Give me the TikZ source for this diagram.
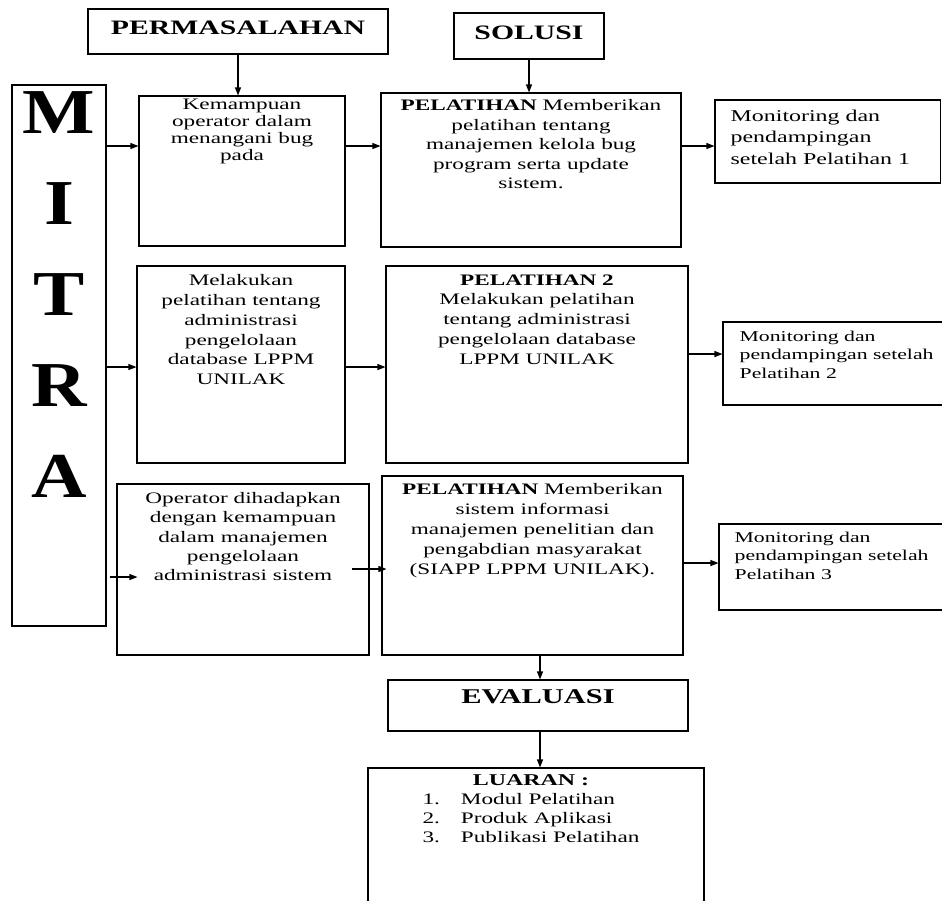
\documentclass[tikz,border=0pt]{standalone}
\usepackage{fontspec}
\setmainfont{Liberation Serif}[FakeStretch=1.45]
\newfontfamily\mitrafont{Liberation Serif}[FakeStretch=1.2]
\usetikzlibrary{positioning,calc,arrows.meta}
\tikzset{
  box/.style={draw, line width=1.1pt, inner sep=0pt},
  txt/.style={inner sep=0pt, align=center},
  arr/.style={line width=1.1pt, -{Triangle[length=8pt,width=6pt]}},
}
\newcommand{\fs}[2]{\fontsize{#1}{#2}\selectfont}

\begin{document}
\begin{tikzpicture}[x=1pt,y=-1pt]
\useasboundingbox (0,0) rectangle (942,900);
\clip (0,0) rectangle (942,900);
\fill[white] (0,0) rectangle (942,900);

\node[box, minimum width=300pt, minimum height=45pt] (perm) at (238,31.5) {};
\node[box, minimum width=150pt, minimum height=46pt] (solusi) at (529,36) {};
\node[box, minimum width=94pt, minimum height=541pt] (mitra) at (59,355.5) {};
\node[box, minimum width=206pt, minimum height=150pt] (b1) at (242,171) {};
\node[box, minimum width=300pt, minimum height=154pt] (b2) at (531,170) {};
\node[box, minimum width=225.5pt, minimum height=83pt] (mon1) at (827.75,141.5) {};
\node[box, minimum width=208pt, minimum height=197pt] (b3) at (241,364.5) {};
\node[box, minimum width=302pt, minimum height=197pt] (b4) at (537,364.5) {};
\node[box, minimum width=239pt, minimum height=83pt] (mon2) at (842.5,363.5) {};
\node[box, minimum width=252pt, minimum height=171pt] (b5) at (243,569.5) {};
\node[box, minimum width=301pt, minimum height=179pt] (b6) at (532.5,565.5) {};
\node[box, minimum width=243pt, minimum height=86pt] (mon3) at (840.5,567) {};
\node[box, minimum width=300pt, minimum height=51pt] (eval) at (538,705.5) {};
\node[box, minimum width=336pt, minimum height=152pt] (luaran) at (536,844) {};

\foreach \ch [count=\i] in {M,I,T,R,A}
  \node[inner sep=0pt, anchor=base, font=\mitrafont\bfseries\fs{64}{64}] (mitra\ch) at (59,42+91*\i) {\ch};

\node[txt, font=\fs{20.5}{24}\bfseries, below=12pt of perm.north] (tperm) {PERMASALAHAN};
\node[txt, font=\fs{20.5}{24}\bfseries, below=13pt of solusi.north] (tsolusi) {SOLUSI};
\node[txt, font=\fs{16}{17}, below=3pt of b1.north] (t1) {Kemampuan\\operator dalam\\menangani bug\\pada};
\node[txt, font=\fs{16}{19.5}, below=7pt of b2.north] (t2) {\textbf{PELATIHAN} Memberikan\\pelatihan tentang\\manajemen kelola bug\\program serta update\\sistem.};
\node[txt, font=\fs{16.5}{21.7}, align=left, below right=10pt and 16pt of mon1.north west] (tmon1) {Monitoring dan\\pendampingan\\setelah Pelatihan 1};
\node[txt, font=\fs{16}{19.8}, below=9pt of b3.north] (t3) {Melakukan\\pelatihan tentang\\administrasi\\pengelolaan\\database LPPM\\UNILAK};
\node[txt, font=\fs{16}{19.7}, below=9pt of b4.north] (t4) {\textbf{PELATIHAN 2}\\Melakukan pelatihan\\tentang administrasi\\pengelolaan database\\LPPM UNILAK};
\node[txt, font=\fs{15}{18.5}, align=left, below right=9pt and 17pt of mon2.north west] (tmon2) {Monitoring dan\\pendampingan setelah\\Pelatihan 2};
\node[txt, font=\fs{16}{19.2}, below=9pt of b5.north] (t5) {Operator dihadapkan\\dengan kemampuan\\dalam manajemen\\pengelolaan\\administrasi sistem};
\node[txt, font=\fs{16}{20}, below=8pt of b6.north] (t6) {\textbf{PELATIHAN} Memberikan\\sistem informasi\\manajemen penelitian dan\\pengabdian masyarakat\\(SIAPP LPPM UNILAK).};
\node[txt, font=\fs{15}{18.5}, align=left, below right=8pt and 16pt of mon3.north west] (tmon3) {Monitoring dan\\pendampingan setelah\\Pelatihan 3};
\node[txt, font=\fs{21}{24}\bfseries, below=10pt of eval.north] (teval) {EVALUASI};
\node[txt, font=\fs{16}{19}, below=5pt of luaran.north, xshift=-5pt] (tluaran) {\begin{tabular}{@{}l@{\hspace{21pt}}l@{}}
\multicolumn{2}{c}{\textbf{\fs{16.5}{19}LUARAN :}}\\
1.&Modul Pelatihan\\
2.&Produk Aplikasi\\
3.&Publikasi Pelatihan
\end{tabular}};

\coordinate (ya) at (0,146);
\coordinate (yb) at (0,367);
\coordinate (yc) at (0,354);
\coordinate (yd) at (0,577);
\coordinate (ye) at (0,569);
\coordinate (yf) at (0,563);
\coordinate (xv) at (540,0);

\draw[arr] (perm.south) -- (perm.south |- b1.north);
\draw[arr] (solusi.south) -- (solusi.south |- b2.north);
\draw[arr] (mitra.east |- ya) -- (b1.west |- ya);
\draw[arr] (b1.east |- ya) -- (b2.west |- ya);
\draw[arr] (b2.east |- ya) -- (mon1.west |- ya);
\draw[arr] (mitra.east |- yb) -- (b3.west |- yb);
\draw[arr] (b3.east |- yb) -- (b4.west |- yb);
\draw[arr] (b4.east |- yc) -- (mon2.west |- yc);
\draw[arr] ($(mitra.east |- yd)+(3,0)$) -- ($(b5.west |- yd)+(21,0)$);
\draw[arr] ($(b5.east |- ye)+(-18,0)$) -- ($(b6.west |- ye)+(5,0)$);
\draw[arr] (b6.east |- yf) -- (mon3.west |- yf);
\draw[arr] (b6.south -| xv) -- (eval.north -| xv);
\draw[arr] (eval.south -| xv) -- (luaran.north -| xv);

\end{tikzpicture}
\end{document}
